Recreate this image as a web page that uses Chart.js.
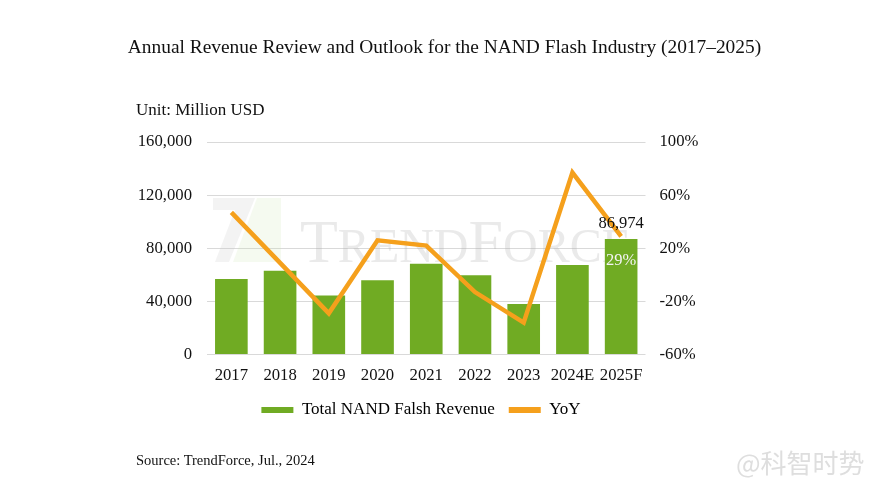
<!DOCTYPE html>
<html>
<head>
<meta charset="utf-8">
<script src="https://cdn.jsdelivr.net/npm/chart.js@4.4.1/dist/chart.umd.min.js"></script>
<style>
  html, body { margin: 0; padding: 0; background: #ffffff; }
  #wrap { position: relative; width: 889px; height: 500px; overflow: hidden; background: #fff; }
  #c { position: absolute; left: 0; top: 0; }
  .txt { position: absolute; font-family: "Liberation Serif", "Times New Roman", serif; color: #111; white-space: nowrap; }
  #title { left: 0; width: 889px; top: 36px; text-align: center; font-size: 19.4px; }
  #unit { left: 136px; top: 100px; font-size: 17px; }
  #source { left: 136px; top: 452px; font-size: 14.5px; }
  #wm { position: absolute; left: 736px; top: 449px; line-height: 26px; font-family: "Noto Sans CJK SC", sans-serif; font-size: 26px; color: #dedede; white-space: nowrap; }
</style>
</head>
<body>
<div id="wrap">
  <canvas id="c" width="889" height="500"></canvas>
  <div class="txt" id="title">Annual Revenue Review and Outlook for the NAND Flash Industry (2017–2025)</div>
  <div class="txt" id="unit">Unit: Million USD</div>
  <div class="txt" id="source">Source: TrendForce, Jul., 2024</div>
  <div id="wm">@科智时势</div>
</div>
<script>
const categories = ['2017', '2018', '2019', '2020', '2021', '2022', '2023', '2024E', '2025F'];
const revenue = [56800, 63000, 44500, 56000, 68300, 59600, 38100, 67400, 86974];
const yoy = [47, 9, -29, 26, 22, -13, -36, 77, 29];
const leftTicks = [0, 40000, 80000, 120000, 160000];
const rightTicks = [-60, -20, 20, 60, 100];
const seriesNames = ['Total NAND Falsh Revenue', 'YoY'];

const GREEN = '#70ab23';
const ORANGE = '#f5a01c';
const FONT = '"Liberation Serif", "Times New Roman", serif';
const TICK = 16.7;

const watermarkPlugin = {
  id: 'watermark',
  beforeDatasetsDraw(chart) {
    const {ctx, chartArea: a} = chart;
    ctx.save();
    ctx.fillStyle = 'rgba(200,200,200,0.22)';
    ctx.beginPath();
    ctx.moveTo(a.left + 6, a.top + 56);
    ctx.lineTo(a.left + 48, a.top + 56);
    ctx.lineTo(a.left + 22, a.top + 120);
    ctx.lineTo(a.left + 8, a.top + 120);
    ctx.lineTo(a.left + 28, a.top + 68);
    ctx.lineTo(a.left + 6, a.top + 68);
    ctx.closePath();
    ctx.fill();
    ctx.fillStyle = 'rgba(205,228,180,0.20)';
    ctx.beginPath();
    ctx.moveTo(a.left + 50, a.top + 56);
    ctx.lineTo(a.left + 74, a.top + 56);
    ctx.lineTo(a.left + 74, a.top + 120);
    ctx.lineTo(a.left + 26, a.top + 120);
    ctx.closePath();
    ctx.fill();
    ctx.fillStyle = 'rgba(170,170,170,0.25)';
    ctx.textBaseline = 'alphabetic';
    ctx.textAlign = 'left';
    const base = a.top + 120;
    let x = a.left + 93;
    const parts = [['T', 62], ['REND', 48], ['F', 62], ['ORCE', 48]];
    parts.forEach(([t, s]) => {
      ctx.font = s + 'px ' + FONT;
      ctx.fillText(t, x, base);
      x += ctx.measureText(t).width;
    });
    ctx.restore();
  }
};

const labelPlugin = {
  id: 'lastLabels',
  afterDatasetsDraw(chart) {
    const {ctx} = chart;
    const i = categories.length - 1;
    const px = chart.scales.x.getPixelForValue(i);
    const py = chart.scales.y.getPixelForValue(revenue[i]);
    ctx.save();
    ctx.font = '16.5px ' + FONT;
    ctx.textAlign = 'center';
    ctx.textBaseline = 'middle';
    ctx.fillStyle = '#111';
    ctx.fillText(revenue[i].toLocaleString('en-US'), px, py - 15);
    ctx.fillStyle = '#f4f4f4';
    ctx.fillText(yoy[i] + '%', px, py + 22);
    ctx.restore();
  }
};

new Chart(document.getElementById('c'), {
  type: 'bar',
  data: {
    labels: categories,
    datasets: [
      {
        type: 'bar',
        label: seriesNames[0],
        data: revenue,
        backgroundColor: GREEN,
        borderWidth: 0,
        yAxisID: 'y',
        order: 1,
        categoryPercentage: 1.0,
        barPercentage: 0.67
      },
      {
        type: 'line',
        label: seriesNames[1],
        data: yoy,
        borderColor: ORANGE,
        backgroundColor: ORANGE,
        borderWidth: 4.5,
        pointRadius: 0,
        tension: 0,
        yAxisID: 'y1',
        order: 0
      }
    ]
  },
  options: {
    responsive: false,
    animation: false,
    devicePixelRatio: 1,
    layout: { padding: { top: 142, right: 47, bottom: 71.5, left: 0 } },
    plugins: {
      title: { display: false },
      tooltip: { enabled: false },
      legend: {
        display: true,
        position: 'bottom',
        labels: {
          font: { family: FONT, size: 17 },
          color: '#111',
          boxWidth: 32,
          boxHeight: 6,
          padding: 14,
          generateLabels(chart) {
            return chart.data.datasets.map((ds, i) => ({
              text: ds.label,
              fillStyle: i === 0 ? GREEN : ORANGE,
              strokeStyle: i === 0 ? GREEN : ORANGE,
              lineWidth: 0,
              hidden: false,
              datasetIndex: i
            }));
          }
        }
      }
    },
    scales: {
      x: {
        grid: { display: false, drawTicks: false },
        border: { display: false },
        ticks: { font: { family: FONT, size: TICK }, color: '#111', padding: 11, maxRotation: 0, autoSkip: false },
        afterFit(s) { s.height = 33; }
      },
      y: {
        position: 'left',
        min: 0, max: 160000,
        afterBuildTicks(s) { s.ticks = leftTicks.map(v => ({ value: v })); },
        grid: { color: '#d9d9d9', lineWidth: 1, drawTicks: false },
        border: { display: false },
        ticks: { font: { family: FONT, size: TICK }, color: '#111', padding: 15,
                 callback: v => Number(v).toLocaleString('en-US') },
        afterFit(s) { s.width = 207; }
      },
      y1: {
        position: 'right',
        min: -60, max: 100,
        afterBuildTicks(s) { s.ticks = rightTicks.map(v => ({ value: v })); },
        grid: { display: false, drawTicks: false },
        border: { display: false },
        ticks: { font: { family: FONT, size: TICK }, color: '#111', padding: 14,
                 callback: v => v + '%' },
        afterFit(s) { s.width = 889 - 47 - 645.5; }
      }
    }
  },
  plugins: [watermarkPlugin, labelPlugin]
});
</script>
</body>
</html>
